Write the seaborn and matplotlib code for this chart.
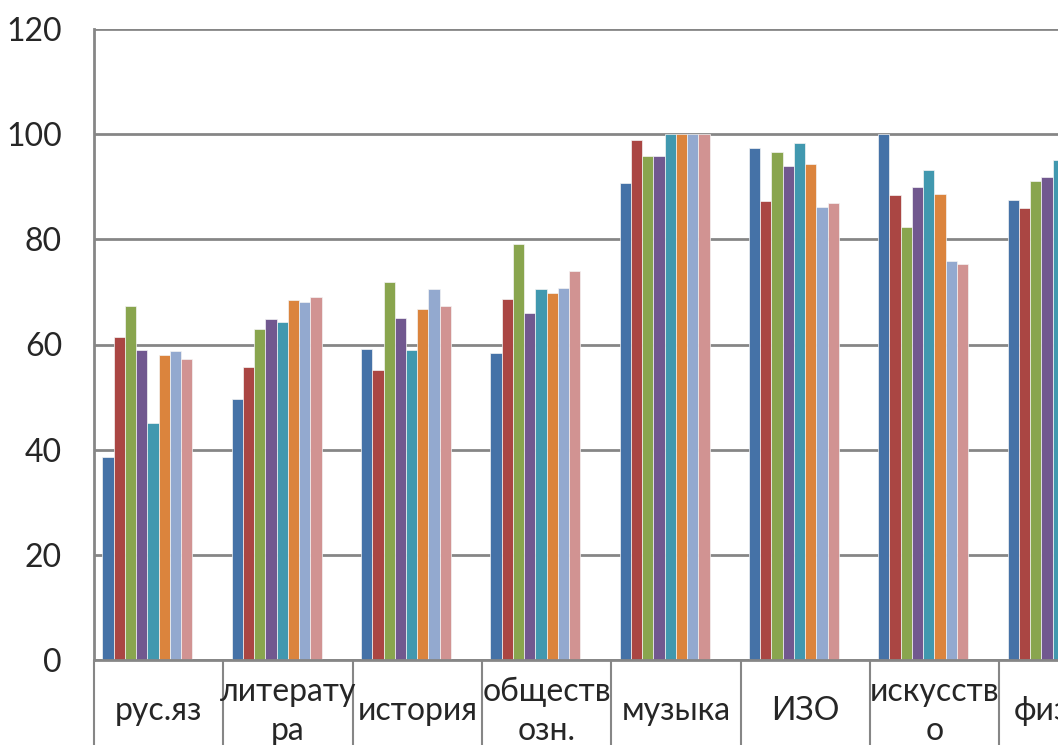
import matplotlib
matplotlib.use("Agg")
import matplotlib.pyplot as plt
import numpy as np
import pandas as pd
import seaborn as sns

# Categorías (la última queda cortada en el borde derecho)
categorias = ["рус.яз", "литерату\nра", "история", "обществ\nозн.",
              "музыка", "ИЗО", "искусств\nо", "физ-ра"]

# Series (10 columnas en el original, las dos últimas vacías)
serie_1 = [38.6, 49.6, 59.2, 58.3, 90.7, 97.3, 100.0, 87.5]
serie_2 = [61.5, 55.7, 55.2, 68.7, 98.9, 87.2, 88.4, 86.0]
serie_3 = [67.3, 63.0, 71.8, 79.2, 95.9, 96.6, 82.3, 91.0]
serie_4 = [59.0, 64.9, 65.0, 66.0, 95.9, 94.0, 90.0, 91.9]
serie_5 = [45.1, 64.3, 59.0, 70.6, 100.0, 98.3, 93.2, 95.0]
serie_6 = [58.0, 68.5, 66.8, 69.7, 100.0, 94.3, 88.6, 92.0]
serie_7 = [58.8, 68.1, 70.6, 70.7, 100.0, 86.2, 75.9, 90.0]
serie_8 = [57.3, 69.0, 67.3, 74.0, 100.0, 87.0, 75.4, 91.0]
serie_9 = [0, 0, 0, 0, 0, 0, 0, 0]
serie_10 = [0, 0, 0, 0, 0, 0, 0, 0]

series = [serie_1, serie_2, serie_3, serie_4, serie_5,
          serie_6, serie_7, serie_8, serie_9, serie_10]
nombres = [f"s{i + 1}" for i in range(len(series))]
colores = ["#4572A7", "#AA4643", "#89A54E", "#71588F", "#4198AF",
           "#DB843D", "#93A9CF", "#D19392", "#FFFFFF", "#FFFFFF"]

y_ticks = [0, 20, 40, 60, 80, 100, 120]

df = pd.DataFrame({
    "cat": np.tile(categorias, len(series)),
    "serie": np.repeat(nombres, len(categorias)),
    "valor": np.concatenate(series),
})

sns.set_style("white")
plt.rcParams["font.family"] = ["Lato", "DejaVu Sans"]

gris = "#868686"
fig = plt.figure(figsize=(10.58, 7.45), dpi=100)
ax = fig.add_axes([94 / 1058, 85 / 745, 8 * 129.3 / 1058, 631 / 745])

sns.barplot(data=df, x="cat", y="valor", hue="serie", order=categorias,
            hue_order=nombres, palette=colores, saturation=1, width=0.87,
            gap=0, edgecolor="#F4F4F4", linewidth=0.5, legend=False, ax=ax)

ax.set_xlim(-0.5, len(categorias) - 0.5)
ax.set_ylim(0, 120)
ax.set_yticks(y_ticks)
ax.set_yticklabels([str(v) for v in y_ticks], fontsize=23)
ax.tick_params(axis="y", left=False, length=0, pad=23)
ax.grid(axis="y", color=gris, linewidth=2.0)
ax.set_axisbelow(True)
ax.set_xlabel("")
ax.set_ylabel("")

for lado in ["top", "right"]:
    ax.spines[lado].set_visible(False)
for lado in ["left", "bottom"]:
    ax.spines[lado].set_color(gris)
    ax.spines[lado].set_linewidth(2.0)

# separadores de categorías (ticks mayores) y etiquetas (ticks menores)
pos = np.arange(len(categorias))
ax.set_xticks(np.arange(-0.5, len(categorias), 1.0))
ax.set_xticklabels([])
ax.tick_params(axis="x", which="major", bottom=True, length=70, width=1.5,
               color=gris, direction="out")
ax.set_xticks(pos, minor=True)
ax.set_xticklabels(categorias, minor=True, fontsize=23, linespacing=1.35)
ax.tick_params(axis="x", which="minor", bottom=True, length=0, pad=37)
for lab in ax.get_xticklabels(minor=True):
    lab.set_verticalalignment("center")

fig.savefig("out.png", dpi=100)
